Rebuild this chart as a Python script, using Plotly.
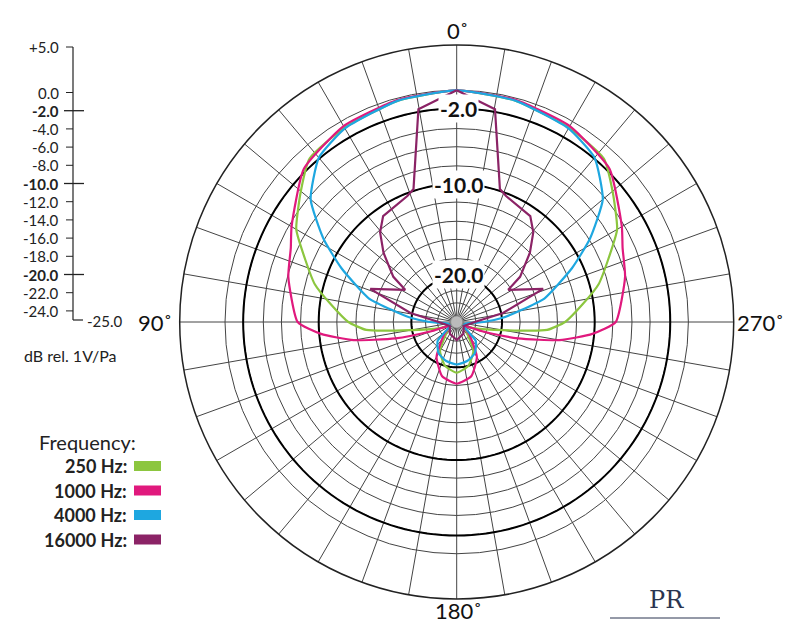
import numpy as np
import plotly.graph_objects as go

W, H = 805, 640

# left-half angles (deg, 0 = front, counter-clockwise to 180) and levels in dB
ang_250 = [0, 15, 30, 42, 50, 60, 68, 75, 82, 90, 95, 100, 110, 120, 135, 150, 165, 180]
db_250 = [0, -0.3, -0.8, -1.3, -3.0, -4.9, -7.3, -9.0, -11.2, -13.2, -15.1, -19.8, -24.1, -25.0, -24.5, -21.7, -20.0, -19.4]

ang_1000 = [0, 15, 30, 45, 60, 66, 75, 90, 95, 100, 105, 110, 120, 135, 150, 165, 180]
db_1000 = [0, -0.2, -0.6, -1.7, -4.3, -5.3, -6.1, -7.7, -10.2, -13.6, -18.0, -22.7, -25.0, -24.1, -20.7, -18.8, -18.2]

ang_4000 = [0, 15, 30, 40, 50, 58, 65, 75, 80, 85, 90, 100, 120, 135, 150, 165, 180]
db_4000 = [0, -0.3, -0.9, -1.9, -4.3, -7.9, -11.2, -15.1, -18.0, -20.0, -22.7, -24.9, -25.0, -22.7, -21.3, -20.7, -20.4]

ang_16000 = [0, 10.2, 18, 21.4, 34.8, 40.5, 46.6, 54.5, 58, 69, 79, 90, 120, 150, 180]
db_16000 = [0, -1.7, -9.8, -10.3, -11.0, -12.2, -14.0, -16.5, -18.3, -14.9, -19.8, -24.1, -25.0, -24.5, -24.1]

series = [
    ("250 Hz:", ang_250, db_250, "#8cc63f", "spline"),
    ("1000 Hz:", ang_1000, db_1000, "#e0197d", "spline"),
    ("4000 Hz:", ang_4000, db_4000, "#1ea7e0", "spline"),
    ("16000 Hz:", ang_16000, db_16000, "#8b2366", "linear"),
]

# the chart's rings are not evenly spaced: ring level (dB) -> ring radius (chart units)
ring_db = [-25, -24, -22, -20, -18, -16, -14, -12, -10, -8, -6, -4, -2, 0, 5]
ring_r = [8, 19, 31, 45, 63, 82, 100, 119, 137, 155, 174, 192, 212, 230, 275]
bold_db = [-2, -10, -20]
scale_db = [5, 0, -2, -4, -6, -8, -10, -12, -14, -16, -18, -20, -22, -24]


def rad(d):
    return np.interp(d, ring_db, ring_r)


def mirror(a, v):
    th = a + [360 - x for x in reversed(a[:-1])]
    r = v + list(reversed(v[:-1]))
    return th, r


fig = go.Figure()

circ = list(range(0, 361, 2))
for b in bold_db:
    fig.add_trace(go.Scatterpolar(theta=circ, r=[rad(b)] * len(circ), mode="lines",
                                  line=dict(color="black", width=2), hoverinfo="skip", showlegend=False))
fig.add_trace(go.Scatterpolar(theta=circ, r=[6] * len(circ), mode="lines", fill="toself",
                              fillcolor="#bbb", line=dict(color="#888", width=1),
                              hoverinfo="skip", showlegend=False))

for name, a, v, c, shp in series:
    th, r = mirror(a, v)
    fig.add_trace(go.Scatterpolar(theta=th, r=rad(r), mode="lines", name=name,
                                  line=dict(color=c, width=2.2, shape=shp, smoothing=0.5),
                                  showlegend=False))

half = 277
fig.update_layout(
    width=W, height=H, margin=dict(l=0, r=0, t=0, b=0),
    paper_bgcolor="white", plot_bgcolor="white",
    polar=dict(
        domain=dict(x=[(456.7 - half) / W, (456.7 + half) / W],
                    y=[(H - 322 - half) / H, (H - 322 + half) / H]),
        bgcolor="white",
        radialaxis=dict(range=[0, 275], tickvals=ring_r[1:-1], showticklabels=False,
                        gridcolor="#444", gridwidth=1, showline=False, ticks=""),
        angularaxis=dict(rotation=90, direction="counterclockwise",
                         tickvals=list(range(0, 360, 10)), showticklabels=False, ticks="",
                         gridcolor="#444", gridwidth=1, linecolor="#222", linewidth=1.5),
    ),
    font=dict(family="Lato, Open Sans, sans-serif", color="#222"),
)


def px(x):
    return x / W


def py(y):
    return 1 - y / H


def text(x, y, t, size, xa="center", **kw):
    return dict(x=px(x), y=py(y), text=t, showarrow=False, xanchor=xa, yanchor="middle",
                font=dict(size=size, color=kw.pop("color", "#222"), family=kw.pop("family", None)), **kw)


ann = []
shapes = []
# angle labels
for t, x, y in [("0˚", 458, 30), ("90˚", 155, 322), ("180˚", 458, 610), ("270˚", 760, 322)]:
    ann.append(text(x, y, t, 22, color="#111"))
# in-plot level labels
for t, y in [("-2.0", 109), ("-10.0", 184), ("-20.0", 274)]:
    ann.append(text(458, y, "<b>" + t + "</b>", 21, color="#111", bgcolor="white"))


# left dB scale
def sy(d):
    return 320 - (d + 25) * 9.1


shapes.append(dict(type="line", xref="paper", yref="paper", x0=px(73), x1=px(73),
                   y0=py(sy(5)), y1=py(320), line=dict(color="#222", width=1.2)))
shapes.append(dict(type="line", xref="paper", yref="paper", x0=px(73), x1=px(83),
                   y0=py(320), y1=py(320), line=dict(color="#222", width=1.2)))
for d in scale_db:
    bold = d in bold_db
    shapes.append(dict(type="line", xref="paper", yref="paper", x0=px(64 if bold else 66),
                       x1=px(84 if bold else 73), y0=py(sy(d)), y1=py(sy(d)),
                       line=dict(color="#222", width=1.3 if bold else 1)))
    lab = ("+%.1f" % d) if d > 0 else ("%.1f" % d)
    if bold:
        lab = "<b>" + lab + "</b>"
    ann.append(text(61, sy(d), lab, 15, xa="right"))
ann.append(text(85, 321, "-25.0", 15, xa="left"))
ann.append(text(22, 355, "dB rel. 1V/Pa", 16, xa="left"))

# legend
ann.append(text(37, 442, "Frequency:", 20, xa="left"))
for i, (name, a, v, c, shp) in enumerate(series):
    y = 466 + i * 24.5
    ann.append(text(129, y, "<b>" + name + "</b>", 18, xa="right"))
    shapes.append(dict(type="rect", xref="paper", yref="paper", x0=px(134), x1=px(161),
                       y0=py(y + 5), y1=py(y - 5), fillcolor=c, line=dict(width=0)))

# logo
ann.append(text(666, 600, "PR", 24, color="#2a3550", family="DejaVu Serif"))
shapes.append(dict(type="line", xref="paper", yref="paper", x0=px(610), x1=px(720),
                   y0=py(618), y1=py(618), line=dict(color="#2a3550", width=1)))

fig.update_layout(annotations=ann, shapes=shapes)
fig.write_html("out.html", config={"displayModeBar": False},
               post_script="document.body.style.margin='0';")
